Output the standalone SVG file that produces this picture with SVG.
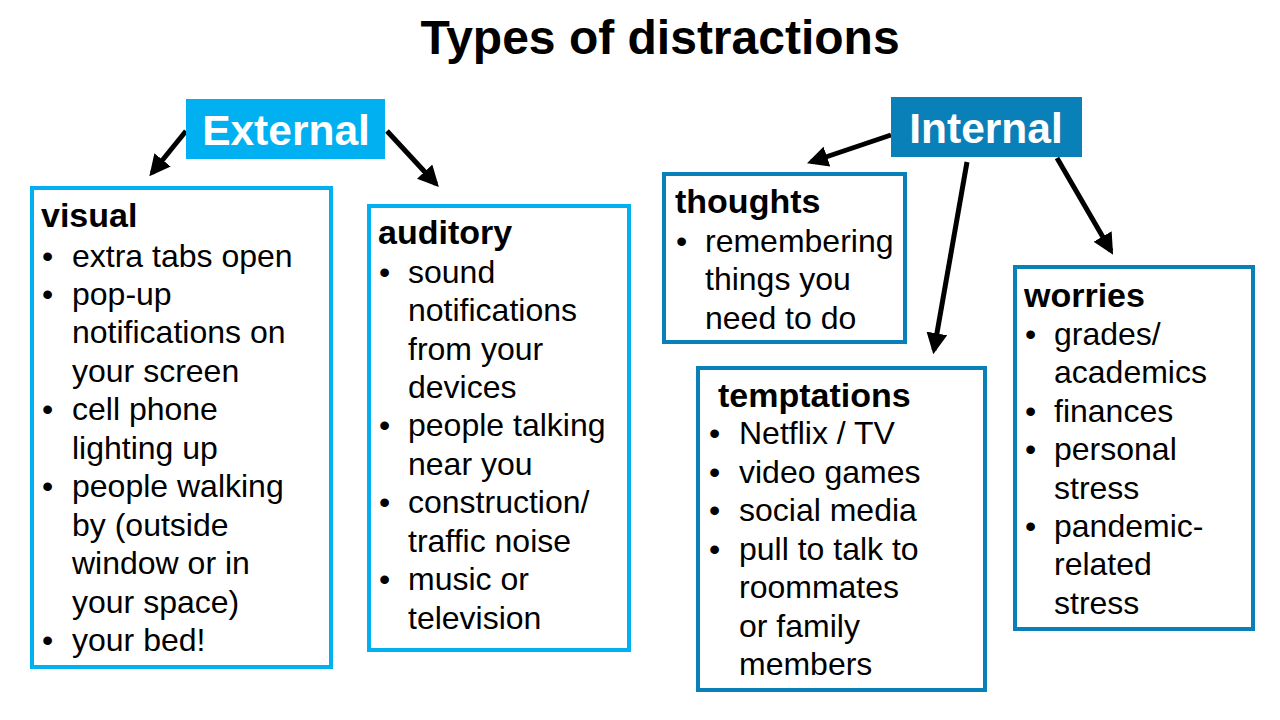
<svg xmlns="http://www.w3.org/2000/svg" width="1280" height="720" viewBox="0 0 1280 720">
<defs>
<marker id="ah" viewBox="0 0 10 10" refX="8" refY="5" markerWidth="4.2" markerHeight="4.2" orient="auto" markerUnits="strokeWidth">
<path d="M0,0 L10,5 L0,10 Z" fill="#000"/>
</marker>
<style>
text{font-family:"Liberation Sans",Arial,sans-serif;fill:#000}
.t{font-size:48px;font-weight:bold}
.hd{font-size:42.5px;font-weight:bold;fill:#fff}
.h{font-size:34px;font-weight:bold}
.b{font-size:32px}
.lb{fill:#fff;stroke:#00B0F0;stroke-width:4}
.db{fill:#fff;stroke:#0A80B8;stroke-width:4}
.c{stroke:#000;stroke-width:5;fill:none;marker-end:url(#ah)}
</style>
</defs>
<rect width="1280" height="720" fill="#fff"/>
<text class="t" x="660" y="54" text-anchor="middle">Types of distractions</text>

<g id="connectors">
<line class="c" x1="186" y1="131" x2="152" y2="173"/>
<line class="c" x1="387" y1="131" x2="436" y2="184"/>
<line class="c" x1="891" y1="135" x2="811" y2="162"/>
<line class="c" x1="967" y1="162" x2="934" y2="350"/>
<line class="c" x1="1057" y1="158" x2="1111" y2="251"/>
</g>

<g id="external">
<rect x="186" y="99" width="199" height="60" fill="#00B0F0"/>
<text class="hd" x="286" y="145" text-anchor="middle">External</text>
</g>
<g id="internal">
<rect x="891" y="97" width="191" height="60" fill="#0A80B8"/>
<text class="hd" x="986" y="143" text-anchor="middle">Internal</text>
</g>

<g id="visual">
<rect class="lb" x="32" y="188" width="299" height="479"/>
<text class="h" x="41" y="227">visual</text>
<g class="b">
<text x="42" y="267">•</text><text x="72" y="267">extra tabs open</text>
<text x="42" y="305">•</text><text x="72" y="305">pop-up</text>
<text x="72" y="343">notifications on</text>
<text x="72" y="382">your screen</text>
<text x="42" y="420">•</text><text x="72" y="420">cell phone</text>
<text x="72" y="459">lighting up</text>
<text x="42" y="497">•</text><text x="72" y="497">people walking</text>
<text x="72" y="536">by (outside</text>
<text x="72" y="574">window or in</text>
<text x="72" y="613">your space)</text>
<text x="42" y="651">•</text><text x="72" y="651">your bed!</text>
</g>
</g>

<g id="auditory">
<rect class="lb" x="369" y="206" width="260" height="444"/>
<text class="h" x="378" y="244">auditory</text>
<g class="b">
<text x="379" y="283">•</text><text x="408" y="283">sound</text>
<text x="408" y="321">notifications</text>
<text x="408" y="360">from your</text>
<text x="408" y="398">devices</text>
<text x="379" y="436">•</text><text x="408" y="436">people talking</text>
<text x="408" y="475">near you</text>
<text x="379" y="513">•</text><text x="408" y="513">construction/</text>
<text x="408" y="552">traffic noise</text>
<text x="379" y="590">•</text><text x="408" y="590">music or</text>
<text x="408" y="629">television</text>
</g>
</g>

<g id="thoughts">
<rect class="db" x="664" y="174" width="241" height="168"/>
<text class="h" x="675" y="213">thoughts</text>
<g class="b">
<text x="676" y="252">•</text><text x="705" y="252">remembering</text>
<text x="705" y="290">things you</text>
<text x="705" y="329">need to do</text>
</g>
</g>

<g id="temptations">
<rect class="db" x="698" y="368" width="287" height="322"/>
<text class="h" x="718" y="407">temptations</text>
<g class="b">
<text x="709" y="444">•</text><text x="739" y="444">Netflix / TV</text>
<text x="709" y="483">•</text><text x="739" y="483">video games</text>
<text x="709" y="521">•</text><text x="739" y="521">social media</text>
<text x="709" y="560">•</text><text x="739" y="560">pull to talk to</text>
<text x="739" y="598">roommates</text>
<text x="739" y="637">or family</text>
<text x="739" y="675">members</text>
</g>
</g>

<g id="worries">
<rect class="db" x="1015" y="267" width="238" height="362"/>
<text class="h" x="1024" y="307">worries</text>
<g class="b">
<text x="1025" y="345">•</text><text x="1054" y="345">grades/</text>
<text x="1054" y="383">academics</text>
<text x="1025" y="422">•</text><text x="1054" y="422">finances</text>
<text x="1025" y="460">•</text><text x="1054" y="460">personal</text>
<text x="1054" y="499">stress</text>
<text x="1025" y="537">•</text><text x="1054" y="537">pandemic-</text>
<text x="1054" y="575">related</text>
<text x="1054" y="614">stress</text>
</g>
</g>
</svg>
